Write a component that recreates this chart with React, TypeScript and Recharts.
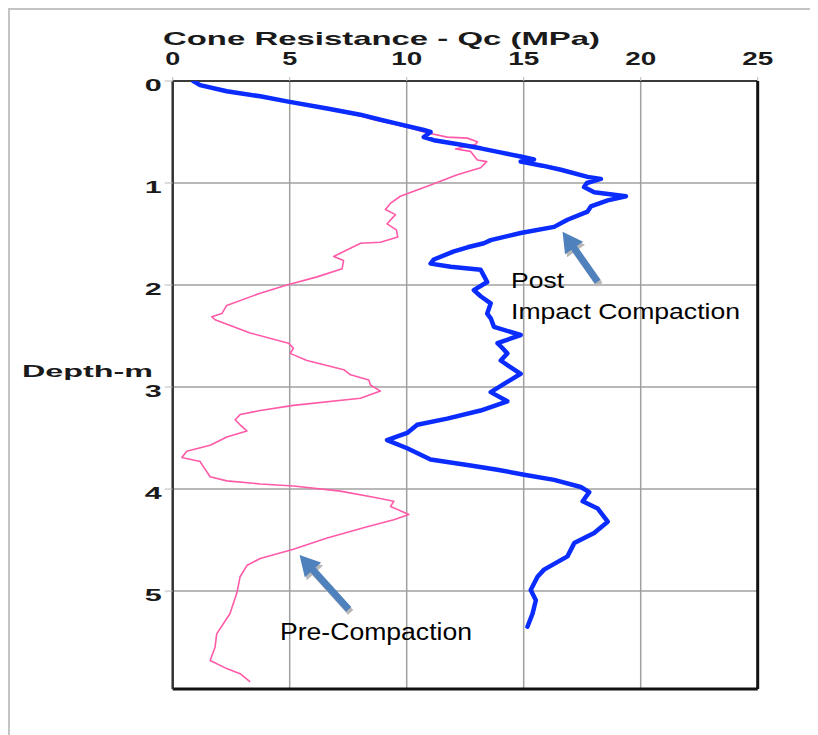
import React from "react";
import {
  ScatterChart,
  Scatter,
  XAxis,
  YAxis,
  CartesianGrid,
  ReferenceLine,
  Customized,
} from "recharts";

// Pre-compaction CPT trace (depth m, Qc MPa)
const preDepth = [
  0.0, 0.05, 0.1, 0.15, 0.2, 0.27, 0.33, 0.38, 0.43, 0.47, 0.5, 0.55, 0.56, 0.595, 0.62,
  0.667, 0.69, 0.775, 0.79, 0.85, 0.92, 1.02, 1.13, 1.2, 1.26, 1.31, 1.4, 1.46, 1.53,
  1.58, 1.59, 1.72, 1.76, 1.84, 1.92, 2.0, 2.08, 2.2, 2.28, 2.31, 2.34, 2.47, 2.57,
  2.62, 2.67, 2.74, 2.83, 2.88, 2.93, 2.98, 3.04, 3.11, 3.18, 3.23, 3.27, 3.32, 3.37,
  3.43, 3.49, 3.57, 3.63, 3.69, 3.73, 3.78, 3.88, 3.92, 3.95, 3.97, 4.02, 4.08, 4.12,
  4.17, 4.25, 4.3, 4.37, 4.48, 4.59, 4.68, 4.75, 4.86, 5.02, 5.22, 5.42, 5.55, 5.68,
  5.76, 5.81, 5.89,
];
const preQc = [
  0.88, 1.3, 2.4, 3.8, 5.0, 6.6, 7.8, 8.6, 9.6, 10.3, 10.73, 11.73, 12.59, 13.02, 12.95,
  12.09, 12.73, 13.02, 13.42, 13.16, 12.16, 11.02, 9.73, 9.3, 9.09, 9.52, 9.16, 9.56, 9.62,
  8.88, 8.03, 6.88, 7.3, 7.24, 6.17, 4.88, 3.74, 2.31, 2.1, 1.67, 1.81, 3.31, 4.95,
  5.16, 5.02, 5.74, 7.31, 7.6, 8.38, 8.45, 8.88, 8.02, 5.16, 3.74, 2.88, 2.67, 2.88,
  3.17, 2.31, 1.6, 0.6, 0.39, 1.17, 1.31, 1.6, 2.31, 3.74, 5.16, 7.16, 8.59, 9.45,
  9.31, 10.09, 9.45, 8.31, 6.6, 5.16, 3.74, 3.17, 2.88, 2.74, 2.45, 1.88, 1.81, 1.6,
  2.31, 2.88, 3.31,
];

// Post impact compaction CPT trace
const postDepth = [
  0.0, 0.04, 0.1, 0.15, 0.2, 0.27, 0.33, 0.38, 0.41, 0.48, 0.5, 0.55, 0.58, 0.62, 0.66,
  0.7, 0.74, 0.77, 0.79, 0.83, 0.87, 0.94, 0.96, 1.0, 1.04, 1.09, 1.13, 1.17, 1.23, 1.28,
  1.36, 1.43, 1.49, 1.56, 1.59, 1.63, 1.67, 1.75, 1.79, 1.82, 1.85, 1.91, 1.97, 2.05,
  2.11, 2.18, 2.28, 2.33, 2.41, 2.49, 2.57, 2.62, 2.67, 2.74, 2.8, 2.87, 2.95, 3.05,
  3.14, 3.23, 3.31, 3.37, 3.45, 3.52, 3.6, 3.71, 3.77, 3.81, 3.86, 3.91, 3.98, 4.03,
  4.12, 4.19, 4.32, 4.43, 4.53, 4.66, 4.79, 4.86, 4.99, 5.09, 5.22, 5.35,
];
const postQc = [
  0.88, 1.17, 2.31, 3.74, 4.88, 6.6, 8.02, 8.88, 9.45, 10.73, 11.02, 10.73, 11.16, 12.2,
  13.16, 14.0, 14.87, 15.44, 14.87, 15.8, 16.59, 17.73, 18.3, 17.7, 17.58, 18.01, 19.37,
  18.59, 17.87, 17.73, 16.87, 16.3, 14.87, 13.59, 13.3, 12.6, 12.02, 11.16, 11.02, 11.88,
  13.16, 13.3, 13.44, 12.87, 13.16, 13.59, 13.44, 13.6, 13.73, 14.87, 13.88, 14.1, 14.3,
  14.02, 14.4, 14.87, 14.3, 13.59, 14.3, 13.16, 11.73, 10.45, 10.02, 9.16, 10.02, 11.02,
  12.73, 13.88, 15.02, 16.3, 17.44, 17.8, 17.52, 18.16, 18.59, 18.01, 17.16, 16.87, 15.87,
  15.59, 15.3, 15.52, 15.38, 15.16,
];

const qcTicks = [0, 5, 10, 15, 20, 25];
const depthTicks = [0, 1, 2, 3, 4, 5];
const depthMax = 5.96;

// arrows: [tail qc, tail depth, tip qc, tip depth]
const postArrow = [18.16, 1.968, 16.66, 1.477];
const preArrow = [7.52, 5.18, 5.42, 4.647];

const preData = preDepth.map((d, i) => ({ depth: d, qc: preQc[i] }));
const postData = postDepth.map((d, i) => ({ depth: d, qc: postQc[i] }));

const FONT = "'Liberation Sans', Arial, sans-serif";

function XTick({ x, y, payload }: any) {
  const s = String(payload.value);
  return (
    <text
      x={x}
      y={y + 1}
      textAnchor="middle"
      fontFamily={FONT}
      fontWeight="bold"
      fontSize={18}
      fill="#1a1a1a"
      textLength={s.length === 1 ? 15 : 31}
      lengthAdjust="spacingAndGlyphs"
    >
      {s}
    </text>
  );
}

function YTick({ x, y, payload }: any) {
  return (
    <text
      x={x}
      y={y + 9.5}
      textAnchor="end"
      fontFamily={FONT}
      fontWeight="bold"
      fontSize={17}
      fill="#1a1a1a"
      textLength={17}
      lengthAdjust="spacingAndGlyphs"
    >
      {payload.value}
    </text>
  );
}

function Arrow({ x1, y1, x2, y2 }: any) {
  const dx = x2 - x1;
  const dy = y2 - y1;
  const len = Math.sqrt(dx * dx + dy * dy);
  const ux = dx / len;
  const uy = dy / len;
  const nx = -uy;
  const ny = ux;
  const head = 20;
  const hw = 11;
  const sw = 3.5;
  const bx = x2 - ux * head;
  const by = y2 - uy * head;
  const pts = [
    [x1 + nx * sw, y1 + ny * sw],
    [bx + nx * sw, by + ny * sw],
    [bx + nx * hw, by + ny * hw],
    [x2, y2],
    [bx - nx * hw, by - ny * hw],
    [bx - nx * sw, by - ny * sw],
    [x1 - nx * sw, y1 - ny * sw],
  ];
  const p = pts.map((q) => q.join(",")).join(" ");
  const ps = pts.map((q) => `${q[0] + 2},${q[1] + 3}`).join(" ");
  return (
    <g>
      <polygon points={ps} fill="#b8b8b8" />
      <polygon points={p} fill="#4f81bd" />
    </g>
  );
}

function Annotations() {
  return (
    <g fontFamily={FONT}>
      <text x={155} y={37} fontWeight="bold" fontSize={19} fill="#1a1a1a" textLength={437} lengthAdjust="spacingAndGlyphs">
        Cone Resistance - Qc (MPa)
      </text>
      <text x={14} y={369} fontWeight="bold" fontSize={16.5} fill="#1a1a1a" textLength={131} lengthAdjust="spacingAndGlyphs">
        Depth-m
      </text>
      <text x={503} y={280} fontSize={22} fill="#000" textLength={53} lengthAdjust="spacingAndGlyphs">
        Post
      </text>
      <text x={503} y={311} fontSize={22} fill="#000" textLength={229} lengthAdjust="spacingAndGlyphs">
        Impact Compaction
      </text>
      <text x={272} y={632} fontSize={23} fill="#000" textLength={192} lengthAdjust="spacingAndGlyphs">
        Pre-Compaction
      </text>
    </g>
  );
}

export default function App() {
  return (
    <div style={{ position: "relative", width: 810, height: 727 }}>
      <div
        style={{
          position: "absolute",
          left: 0,
          top: 0,
          width: 810,
          height: 727,
          boxSizing: "border-box",
          borderTop: "2px solid #c4c4c4",
          borderLeft: "2px solid #c4c4c4",
          pointerEvents: "none",
        }}
      />
      <ScatterChart
        width={810}
        height={720}
        margin={{ top: 43, right: 60.3, bottom: 39, left: 104.7 }}
      >
        <CartesianGrid stroke="#a0a0a0" strokeWidth={1.5} />
        <XAxis
          type="number"
          dataKey="qc"
          orientation="top"
          domain={[0, 25]}
          ticks={qcTicks}
          height={30}
          axisLine={{ stroke: "#111", strokeWidth: 1.5 }}
          tickLine={{ stroke: "#bbb" }}
          tickSize={4}
          tickMargin={13}
          tick={<XTick />}
          allowDataOverflow
        />
        <YAxis
          type="number"
          dataKey="depth"
          reversed
          domain={[0, depthMax]}
          ticks={depthTicks}
          width={60}
          axisLine={{ stroke: "#333", strokeWidth: 2.5 }}
          tickLine={{ stroke: "#bbb" }}
          tickSize={8}
          tickMargin={3}
          tick={<YTick />}
          allowDataOverflow
        />
        <ReferenceLine x={25} stroke="#111" strokeWidth={3} />
        <ReferenceLine y={depthMax} stroke="#111" strokeWidth={3} />
        <Scatter
          name="Pre-Compaction"
          data={preData}
          fill="#ff5aa8"
          line={{ stroke: "#ff5aa8", strokeWidth: 1.6, strokeLinejoin: "round" }}
          lineType="joint"
          shape={() => <g />}
          isAnimationActive={false}
        />
        <Scatter
          name="Post Impact Compaction"
          data={postData}
          fill="#0a2cff"
          line={{ stroke: "#0a2cff", strokeWidth: 4.5, strokeLinejoin: "round", strokeLinecap: "round" }}
          lineType="joint"
          shape={() => <g />}
          isAnimationActive={false}
        />
        <ReferenceLine
          segment={[
            { x: postArrow[0], y: postArrow[1] },
            { x: postArrow[2], y: postArrow[3] },
          ]}
          shape={(p: any) => <Arrow {...p} />}
        />
        <ReferenceLine
          segment={[
            { x: preArrow[0], y: preArrow[1] },
            { x: preArrow[2], y: preArrow[3] },
          ]}
          shape={(p: any) => <Arrow {...p} />}
        />
        <Customized component={Annotations} />
      </ScatterChart>
    </div>
  );
}
